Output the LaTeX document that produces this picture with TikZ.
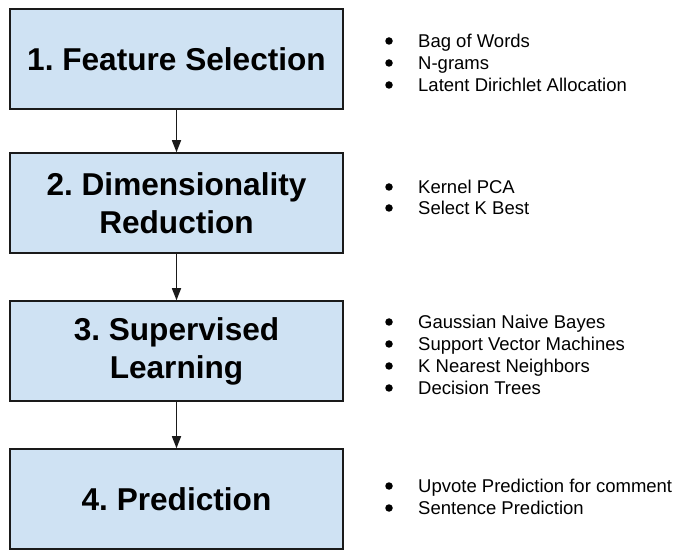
\documentclass[tikz,border=0pt]{standalone}
\usepackage{fontspec}
\setmainfont{Liberation Sans}
\usetikzlibrary{arrows.meta}
\definecolor{boxfill}{HTML}{CFE2F3}
\definecolor{boxline}{HTML}{1A1A1A}
\tikzset{
  stagebox/.style={draw=boxline, line width=1.5pt, fill=boxfill, minimum width=333pt, minimum height=100pt,
    inner sep=0pt, align=center, font=\bfseries\fontsize{31.6}{38}\selectfont},
  flow/.style={draw=boxline, line width=1.4pt, -{Triangle[length=12pt,width=9pt]}},
  bul/.style={circle, fill=black, inner sep=0pt, minimum size=7.5pt},
  item/.style={anchor=west, inner sep=0pt, text height=13.3pt, text depth=0pt, font=\fontsize{18.5}{22}\selectfont}
}
\begin{document}
\frenchspacing
\begin{tikzpicture}[x=1pt,y=1pt]
\useasboundingbox (0,0) rectangle (700,559);
\node[stagebox] (s1) at (176.5,559-59) {1. Feature Selection};
\node[stagebox] (s2) at (176.5,559-203) {2. Dimensionality\\Reduction};
\node[stagebox] (s3) at (176.5,559-351) {3. Supervised\\Learning};
\node[stagebox] (s4) at (176.5,559-499) {4. Prediction};
\draw[flow] (s1) -- (s2);
\draw[flow] (s2) -- (s3);
\draw[flow] (s3) -- (s4);
\foreach \name/\yy/\txt in {a1/41/Bag of Words, a2/63/N-grams, a3/85/Latent Dirichlet Allocation,
  b1/187/Kernel PCA, b2/208/Select K Best,
  c1/322/Gaussian Naive Bayes, c2/344/Support Vector Machines, c3/366/K Nearest Neighbors, c4/388/Decision Trees,
  d1/486/Upvote Prediction for comment, d2/508/Sentence Prediction}{
  \node[bul] (bul\name) at (389,559-\yy) {};
  \node[item] (txt\name) at (418,559-\yy) {\txt};
}
\end{tikzpicture}
\end{document}
